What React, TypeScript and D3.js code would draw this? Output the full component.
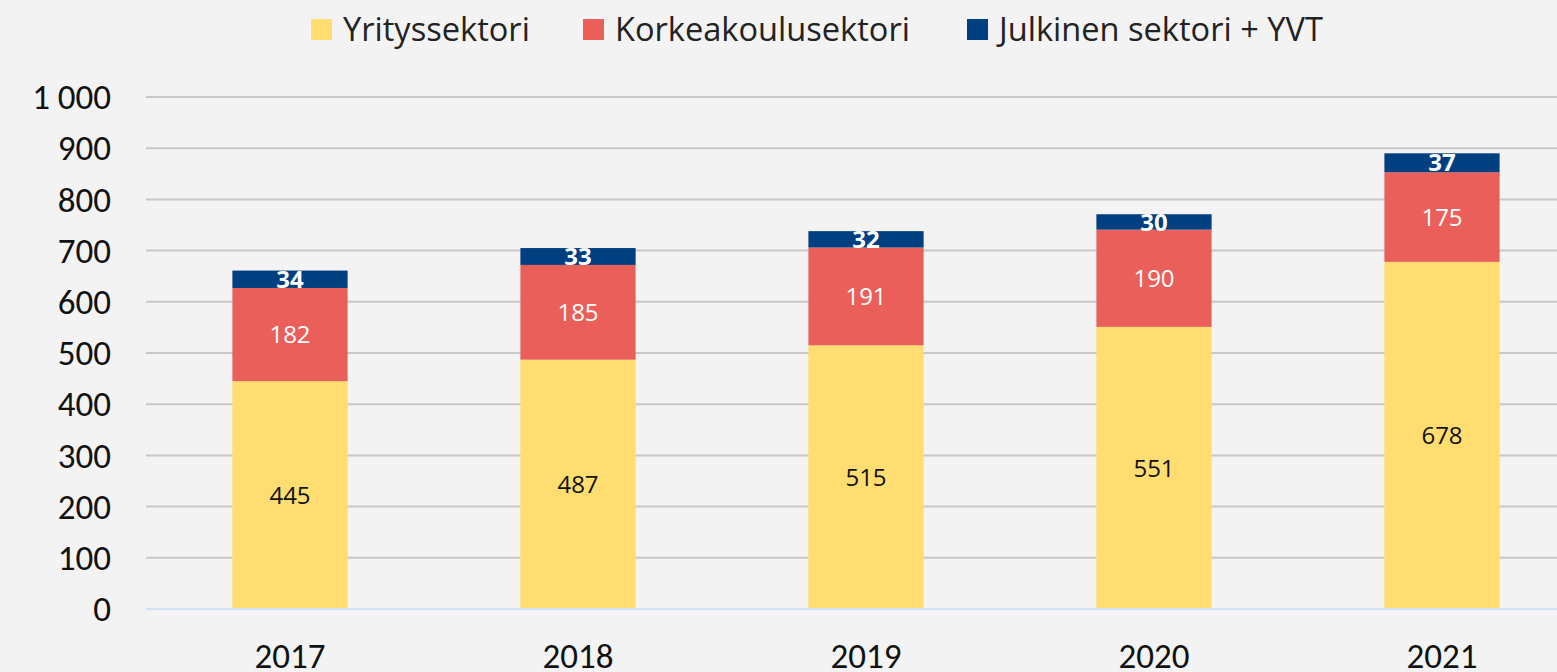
import React from "react";
import * as d3 from "d3";

const years = ["2017", "2018", "2019", "2020", "2021"];
const yritys = [445, 487, 515, 551, 678];
const korkea = [182, 185, 191, 190, 175];
const julkinen = [34, 33, 32, 30, 37];
const seriesNames = ["Yrityssektori", "Korkeakoulusektori", "Julkinen sektori + YVT"];
const seriesColors = ["#FFDD71", "#EB5F5A", "#004080"];
const labelColors = ["#111", "#fff", "#fff"];
const yTicks = [0, 100, 200, 300, 400, 500, 600, 700, 800, 900, 1000];

const W = 1557, H = 672;
const FONT = "Carlito, Calibri, Lato, sans-serif";
const LFONT = "'Open Sans', sans-serif";

export default function App() {
  const x = d3.scaleBand<string>().domain(years).range([146, 1586]).paddingInner(0.6).paddingOuter(0.3);
  const y = d3.scaleLinear().domain([0, 1000]).range([609, 97]);
  const rows = years.map((yr, i) => ({ yr, a: yritys[i], b: korkea[i], c: julkinen[i] }));
  const stack = d3.stack<any>().keys(["a", "b", "c"])(rows);
  const fmt = (v: number) => (v >= 1000 ? d3.format(",")(v).replace(",", " ") : String(v));
  const legendX = [311, 583, 967];
  return (
    <svg width={W} height={H} style={{ position: "absolute", left: 0, top: 0, background: "#F3F3F3" }}>
      <rect width={W} height={H} fill="#F3F3F3" />
      {yTicks.map((t) => (
        <g key={t}>
          {t > 0 && <line x1={146} x2={W} y1={y(t)} y2={y(t)} stroke="#C8C8C8" strokeWidth={2} />}
          <text x={111} y={y(t)} dy="0.35em" textAnchor="end" fontFamily={FONT} fontSize={35} fill="#111">
            {fmt(t)}
          </text>
        </g>
      ))}
      {stack.map((s, si) => (
        <g key={si}>
          {s.map((d, i) => (
            <g key={i}>
              <rect x={x(years[i])} width={x.bandwidth()} y={y(d[1])} height={y(d[0]) - y(d[1])} fill={seriesColors[si]} />
              <text
                x={(x(years[i]) as number) + x.bandwidth() / 2}
                y={(y(d[0]) + y(d[1])) / 2}
                dy="0.36em"
                textAnchor="middle"
                fontFamily={LFONT}
                fontSize={24}
                fontWeight={si === 2 ? "bold" : "normal"}
                fill={labelColors[si]}
              >
                {d[1] - d[0]}
              </text>
            </g>
          ))}
        </g>
      ))}
      <line x1={146} x2={W} y1={y(0)} y2={y(0)} stroke="#CFE2F3" strokeWidth={2} />
      {years.map((yr) => (
        <text key={yr} x={(x(yr) as number) + x.bandwidth() / 2} y={668} textAnchor="middle" fontFamily={FONT} fontSize={35} fill="#111">
          {yr}
        </text>
      ))}
      {seriesNames.map((n, i) => (
        <g key={n}>
          <rect x={legendX[i]} y={19} width={21} height={21} fill={seriesColors[i]} />
          <text x={legendX[i] + 32} y={41} fontFamily={LFONT} fontSize={32.6} fill="#222">
            {n}
          </text>
        </g>
      ))}
    </svg>
  );
}
